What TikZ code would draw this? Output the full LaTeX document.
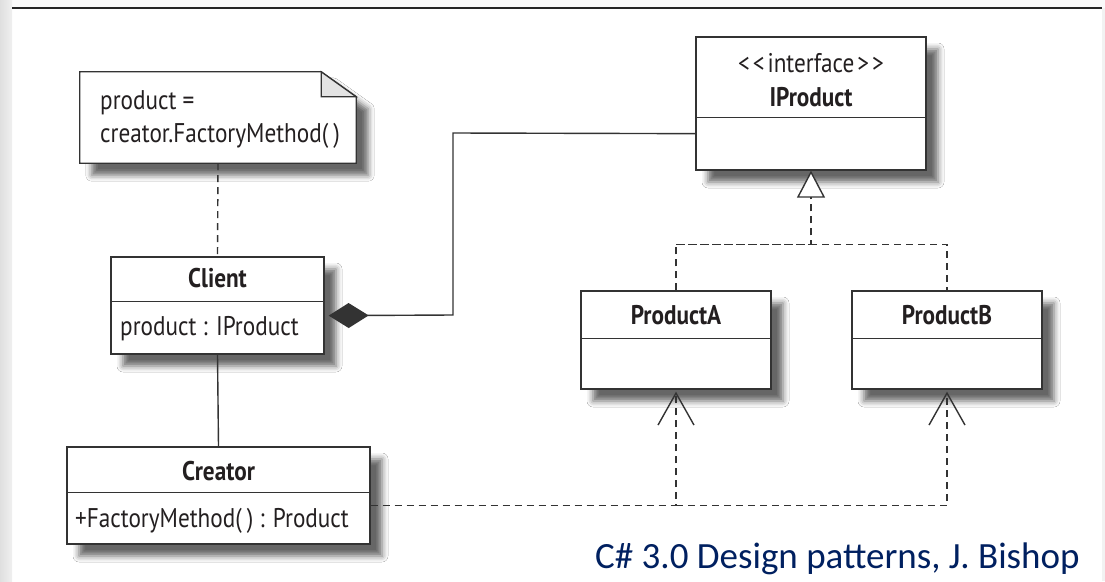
\documentclass[tikz,border=0pt]{standalone}
\usepackage{fontspec}
\setmainfont{PT Sans}[FakeStretch=0.86]
\newfontfamily\capfont{Carlito}
\usetikzlibrary{arrows.meta,shadows.blur,calc}
\definecolor{ln}{HTML}{333333}
\definecolor{txt}{HTML}{231F20}
\definecolor{navy}{RGB}{0,32,96}
\definecolor{foldc}{HTML}{E3E3E3}
\tikzset{
  shd/.style={blur shadow={shadow xshift=12pt, shadow yshift=-12pt, shadow blur radius=6pt, shadow opacity=60}},
  cls/.style={draw=ln, line width=1.3pt, fill=white, shd, inner sep=0pt},
  lbl/.style={inner sep=0pt, text=txt, font=\fontsize{27}{30}\selectfont},
  blbl/.style={lbl, font=\fontsize{27}{30}\selectfont\bfseries},
  divider/.style={draw=ln, line width=1.3pt},
  solidline/.style={draw=ln, line width=1.4pt},
  dsh/.style={draw=ln, line width=1.4pt, dash pattern=on 7pt off 5pt},
}
\begin{document}
\begin{tikzpicture}[x=1pt,y=-1pt]
\useasboundingbox (0,0) rectangle (1105,581);
% background
\fill[white] (0,0) rectangle (1105,581);
\fill[gray!4] (0,0) rectangle (1105,8);
\shade[left color=gray!25, right color=gray!12] (0,0) rectangle (12,581);
\fill[gray!10] (1102,8) rectangle (1105,581);
\draw[line width=2pt, black!85] (12,8) -- (1102,8);

% note
\node[minimum width=276pt, minimum height=91pt, inner sep=0pt] (note) at (218,117.5) {};
\path[draw=ln, line width=1.3pt, fill=white, shd]
  (note.north west) -- ($(note.north east)+(-35,0)$) -- ($(note.north east)+(0,25)$)
  -- (note.south east) -- (note.south west) -- cycle;
\path[draw=ln, line width=1.3pt, fill=foldc]
  ($(note.north east)+(-35,0)$) -- ($(note.north east)+(-35,25)$) -- ($(note.north east)+(0,25)$) -- cycle;
\node[lbl, anchor=base west] (notel1) at (100,109) {product =};
\node[lbl, anchor=base west] (notel2) at (100,142) {creator.FactoryMethod(\hspace{5pt})};

% classes
\node[cls, minimum width=213pt, minimum height=97pt] (client) at (217.5,305.5) {};
\draw[divider] ($(client.north west)+(0,45)$) -- ($(client.north east)+(0,45)$);
\node[blbl, anchor=base] (clientname) at (217.5,287) {Client};
\node[lbl, anchor=base west] (clientattr) at (120,335) {product : IProduct};

\node[cls, minimum width=303pt, minimum height=97pt] (creator) at (218.5,495.5) {};
\draw[divider] ($(creator.north west)+(0,46)$) -- ($(creator.north east)+(0,46)$);
\node[blbl, anchor=base] (creatorname) at (218.5,480) {Creator};
\node[lbl, anchor=base west] (creatorop) at (75,527) {+FactoryMethod(\hspace{5pt}) : Product};

\node[cls, minimum width=230pt, minimum height=133pt] (iproduct) at (811,103.5) {};
\draw[divider] ($(iproduct.north west)+(0,81)$) -- ($(iproduct.north east)+(0,81)$);
\node[lbl, anchor=base] (stereo) at (811,72) {{<}\kern3pt{<}\kern3pt interface\kern3pt{>}\kern3pt{>}};
\node[blbl, anchor=base] (iproductname) at (811,106) {IProduct};

\node[cls, minimum width=190pt, minimum height=98pt] (producta) at (676,340) {};
\draw[divider] ($(producta.north west)+(0,48)$) -- ($(producta.north east)+(0,48)$);
\node[blbl, anchor=base] (productaname) at (676,324) {ProductA};

\node[cls, minimum width=190pt, minimum height=98pt] (productb) at (947,340) {};
\draw[divider] ($(productb.north west)+(0,48)$) -- ($(productb.north east)+(0,48)$);
\node[blbl, anchor=base] (productbname) at (947,324) {ProductB};

% connectors
\draw[dsh] (note.south) -- (client.north);
\draw[solidline] (client.south) -- (creator.north);
\draw[solidline, -{Diamond[length=40pt, width=25pt, fill=ln]}, shorten >=4pt]
  ($(iproduct.south west)+(0,-37)$) -- (453,133) -- (453,315) -- ($(client.south east)+(0,-39)$);
\draw[dsh] (producta.north) -- ++(0,-46) -| (productb.north);
\draw[dsh, -{Triangle[open, length=27pt, width=28pt, fill=white]}]
  ($(producta.north)+(0,-46)$) -| (iproduct.south);
\draw[dsh, -{Straight Barb[length=32pt, width=36pt]}, shorten >=2pt]
  ($(creator.south east)+(0,-39)$) -| (producta.south);
\draw[dsh, -{Straight Barb[length=32pt, width=36pt]}, shorten >=2pt]
  ($(producta.south)+(0,116)$) -| (productb.south);

% caption
\node[inner sep=0pt, anchor=base west, text=navy, font=\capfont\fontsize{37}{40}\selectfont] (caption) at (595,568) {C\# 3.0 Design patterns, J. Bishop};
\end{tikzpicture}
\end{document}
